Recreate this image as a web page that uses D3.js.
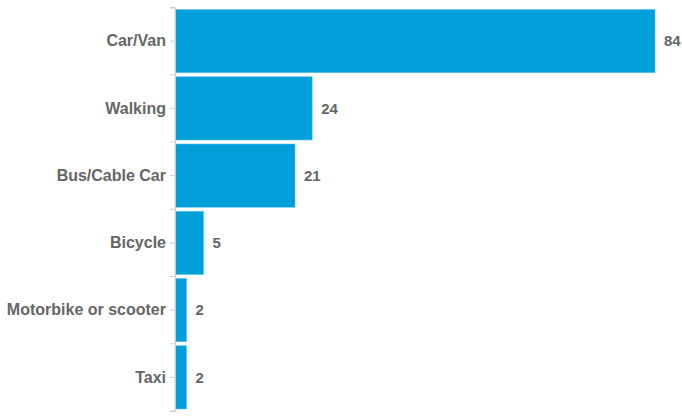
<!DOCTYPE html>
<html>
<head>
<meta charset="utf-8">
<script src="https://cdn.jsdelivr.net/npm/d3@7"></script>
<style>
  body { margin: 0; background: #fff; }
  svg text { font-family: "Liberation Sans", Arial, sans-serif; font-weight: bold; }
</style>
</head>
<body>
<div id="chart"></div>
<script>
// travel mode data
var modes = ["Car/Van", "Walking", "Bus/Cable Car", "Bicycle", "Motorbike or scooter", "Taxi"];
var counts = [84, 24, 21, 5, 2, 2];

var width = 682, height = 416;
var margin = {top: 7.5, right: 27, bottom: 5, left: 175};

var svg = d3.select("#chart")
  .append("svg")
  .attr("width", width)
  .attr("height", height);

var x = d3.scaleLinear()
  .domain([0, 84])
  .range([margin.left, 655]);

var y = d3.scaleBand()
  .domain(modes)
  .range([margin.top, height - margin.bottom])
  .paddingInner(0.06)
  .paddingOuter(0.03);

var data = modes.map(function(m, i) { return {mode: m, count: counts[i]}; });

// bars
svg.selectAll("rect.bar")
  .data(data)
  .enter()
  .append("rect")
  .attr("class", "bar")
  .attr("x", x(0))
  .attr("y", function(d) { return y(d.mode); })
  .attr("width", function(d) { return x(d.count) - x(0); })
  .attr("height", y.bandwidth())
  .attr("fill", "#009fda")
  .attr("stroke", "#5cc3ec")
  .attr("stroke-width", 0.6);

// y axis
var yAxis = svg.append("g")
  .attr("transform", "translate(" + margin.left + ",0)")
  .call(d3.axisLeft(y).tickSize(5).tickPadding(4));

yAxis.select(".domain").attr("stroke", "#cccccc");
yAxis.selectAll(".tick line").attr("stroke", "#cccccc");
yAxis.selectAll(".tick text")
  .attr("fill", "#666666")
  .style("font-size", "16px")
  .style("font-family", "'Liberation Sans', Arial, sans-serif")
  .style("font-weight", "bold");

// ticks at band boundaries
var bounds = modes.map(function(m) { return y(m) - y.step() * y.paddingInner() / 2; });
bounds.push(y(modes[modes.length - 1]) + y.bandwidth() + y.step() * y.paddingInner() / 2);
svg.selectAll("line.bound")
  .data(bounds)
  .enter()
  .append("line")
  .attr("x1", margin.left - 5)
  .attr("x2", margin.left)
  .attr("y1", function(d) { return d; })
  .attr("y2", function(d) { return d; })
  .attr("stroke", "#cccccc");

// value labels
svg.selectAll("text.val")
  .data(data)
  .enter()
  .append("text")
  .attr("class", "val")
  .attr("x", function(d) { return x(d.count) + 9; })
  .attr("y", function(d) { return y(d.mode) + y.bandwidth() / 2; })
  .attr("dy", "0.35em")
  .attr("fill", "#666666")
  .style("font-size", "15px")
  .text(function(d) { return d.count; });
</script>
</body>
</html>
